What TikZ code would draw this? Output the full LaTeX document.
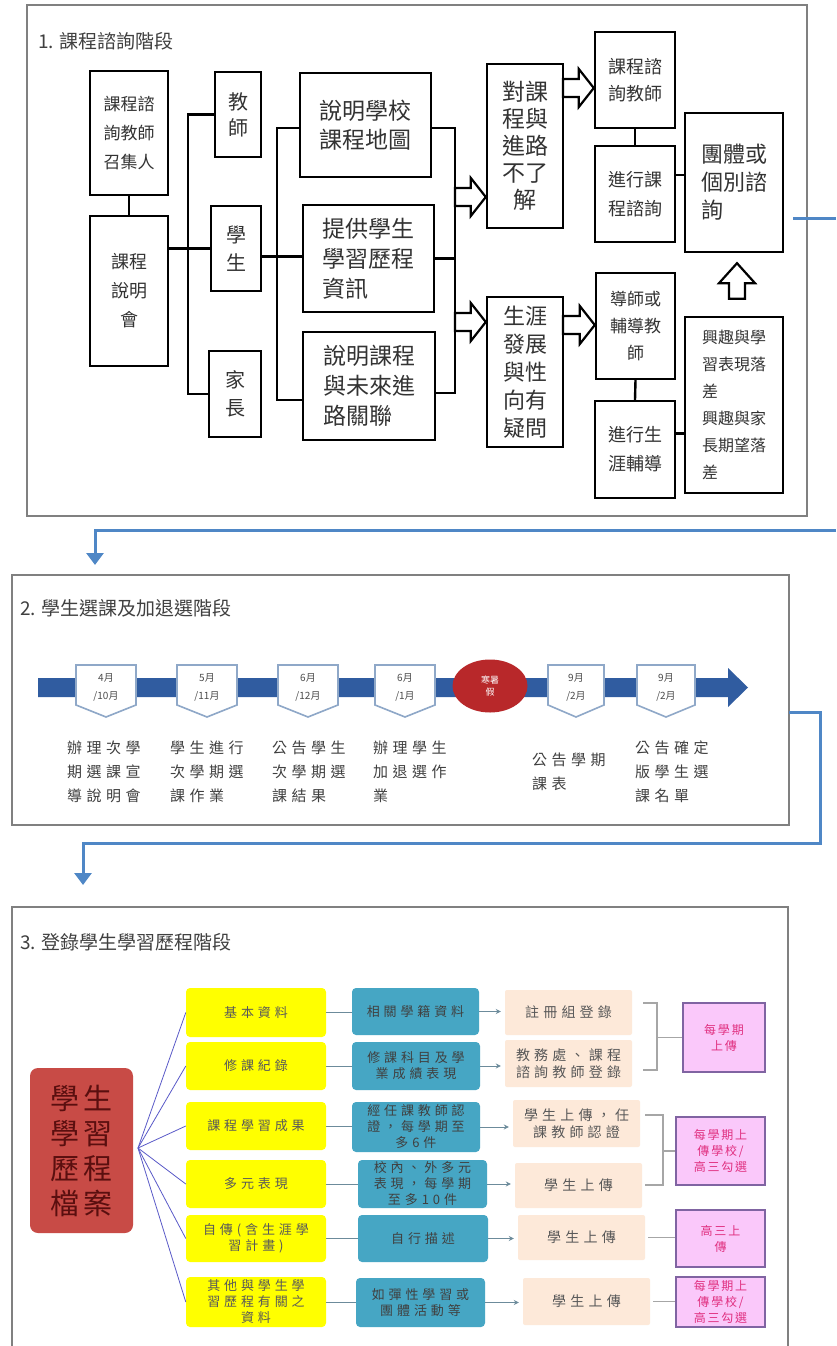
\documentclass[tikz,border=0pt]{standalone}
\usepackage{fontspec}
\setmainfont{Noto Sans CJK TC}
\newfontfamily\spc[LetterSpace=30]{Noto Sans CJK TC}
\newfontfamily\spb[LetterSpace=15]{Noto Sans CJK TC}
\usetikzlibrary{calc,shapes.geometric,arrows.meta}
\definecolor{flowblue}{RGB}{79,135,198}
\definecolor{barblue}{RGB}{48,92,160}
\definecolor{badgeline}{RGB}{143,168,200}
\definecolor{restred}{RGB}{184,40,42}
\definecolor{framegray}{RGB}{128,128,128}
\definecolor{ylw}{RGB}{255,255,0}
\definecolor{tealbox}{RGB}{70,166,196}
\definecolor{peach}{RGB}{253,233,217}
\definecolor{pinkfill}{RGB}{250,200,250}
\definecolor{pinkline}{RGB}{128,100,162}
\definecolor{pinktext}{RGB}{224,48,128}
\definecolor{redbox}{RGB}{200,75,70}
\definecolor{redtext}{RGB}{90,15,15}
\definecolor{fanline}{RGB}{90,90,200}
\newcommand\BX[7]{\node[#1, minimum width={#5-#3}, minimum height={#6-#4}] (#2) at ({(#3+#5)/2},{(#4+#6)/2}) {#7};}
\newcommand\HArR[2]{\draw[hollow] let \p1=(#1), \p2=(#2) in
 (\x1,\y1+9pt) -- (\x2-15pt,\y1+9pt) -- (\x2-15pt,\y1+19pt) -- (\x2,\y1) -- (\x2-15pt,\y1-19pt) -- (\x2-15pt,\y1-9pt) -- (\x1,\y1-9pt) -- cycle;}
\newcommand\HArU[2]{\draw[hollow] let \p1=(#1), \p2=(#2) in
 (\x1-8pt,\y1) -- (\x1-8pt,\y2-20pt) -- (\x1-18pt,\y2-20pt) -- (\x1,\y2) -- (\x1+18pt,\y2-20pt) -- (\x1+8pt,\y2-20pt) -- (\x1+8pt,\y1) -- cycle;}
\newcommand\badge[5]{%
 \draw[draw=badgeline, line width=1.6pt, fill=white] (#2-#3,665) -- (#2+#3,665) -- (#2+#3,705) -- (#2,717) -- (#2-#3,705) -- cycle;
 \node[bdg] (#1) at (#2,687) {#4\\#5};}
\tikzset{
 bx/.style={draw=black, line width=2.4pt, fill=white, align=center, inner sep=1pt, text=black!80},
 bxl/.style={bx, align=left},
 fs/.style 2 args={font=\fontsize{#1}{#2}\selectfont},
 ln/.style={draw=black, line width=2.4pt},
 hollow/.style={draw=black, line width=2.2pt, fill=white, line join=miter},
 frm/.style={draw=framegray, line width=1.6pt},
 ttl/.style={anchor=west, inner sep=0, text=black!75, font=\fontsize{19}{22}\selectfont},
 flowln/.style={draw=flowblue, line width=3pt},
 flowarr/.style={flowln, -{Triangle[length=12pt,width=17pt]}},
 bdg/.style={inner sep=0, align=center, text=black!70, font=\fontsize{10}{18}\selectfont},
 lab/.style={anchor=west, inner sep=0, align=left, text=black!75, font=\spc\fontsize{15}{24}\selectfont},
 ybox/.style={fill=ylw, rounded corners=4pt, align=center, inner sep=1pt, text=black!65, font=\spc\fontsize{13}{16}\selectfont},
 tbox/.style={fill=tealbox, rounded corners=4pt, align=center, inner sep=1pt, text=black!75, font=\spc\fontsize{13}{16}\selectfont},
 pbox/.style={fill=peach, rounded corners=2pt, align=center, inner sep=1pt, text=black!65, font=\spc\fontsize{14}{17}\selectfont},
 kbox/.style={fill=pinkfill, draw=pinkline, line width=1.5pt, align=center, inner sep=1pt, text=pinktext, font=\spb\fontsize{12}{16}\selectfont},
 rbox/.style={fill=redbox, rounded corners=8pt, align=center, inner sep=1pt, text=redtext, font=\spb\fontsize{29}{35}\selectfont},
 fan/.style={draw=fanline, line width=0.8pt},
 conn/.style={draw=gray!60!cyan!80!black, line width=0.8pt},
 brk/.style={draw=gray!70, line width=1.5pt}
}
\begin{document}
\begin{tikzpicture}[x=1pt,y=-1pt]
\useasboundingbox (0,0) rectangle (836,1346);
\fill[white] (0,0) rectangle (836,1346);
% ---------- frames ----------
\BX{frm}{s1}{27}{5}{807}{516}{}
\BX{frm}{s2}{12}{575}{789}{825}{}
\BX{frm}{s3}{12}{907}{788}{1370}{}
\node[ttl] (t1) at (38,41) {1. 課程諮詢階段};
\node[ttl] (t2) at (20,608) {2. 學生選課及加退選階段};
\node[ttl] (t3) at (20,942) {3. 登錄學生學習歷程階段};
% ---------- section 1 ----------
\BX{bx,fs={17}{29}}{A}{90}{71}{168}{195}{課程諮\\詢教師\\召集人}
\BX{bx,fs={18}{29}}{B}{90}{216}{168}{366}{課程\\說明\\會}
\BX{bx,fs={20}{26}}{C}{215}{72}{261}{157}{教\\師}
\BX{bx,fs={20}{28}}{D}{211}{206}{261}{291}{學\\生}
\BX{bx,fs={20}{28}}{E}{209}{351}{261}{437}{家\\長}
\BX{bxl,fs={23}{29}}{F}{300}{73}{431}{177}{說明學校\\課程地圖}
\BX{bxl,fs={23}{30}}{G}{303}{205}{434}{312}{提供學生\\學習歷程\\資訊}
\BX{bxl,fs={23}{30}}{H}{303}{332}{435}{440}{說明課程\\與未來進\\路關聯}
\BX{bx,fs={23}{27}}{I}{487}{64}{563}{228}{對課\\程與\\進路\\不了\\解}
\BX{bx,fs={22}{28}}{J}{487}{297}{563}{447}{生涯\\發展\\與性\\向有\\疑問}
\BX{bx,fs={18}{27}}{K}{595}{32}{675}{128}{課程諮\\詢教師}
\BX{bx,fs={18}{29}}{L}{595}{146}{675}{242}{進行課\\程諮詢}
\BX{bxl,fs={22}{28}}{M}{685}{113}{783}{252}{團體或\\個別諮\\詢}
\BX{bx,fs={17}{27}}{N}{596}{273}{675}{379}{導師或\\輔導教\\師}
\BX{bx,fs={18}{29}}{O}{595}{401}{675}{498}{進行生\\涯輔導}
\BX{bxl,fs={16}{27}}{P}{685}{317}{783}{493}{興趣與學\\習表現落\\差\\興趣與家\\長期望落\\差}
% connectors section 1
\coordinate (lb) at (188,0);
\coordinate (mb) at (277,0);
\coordinate (rb) at (455,0);
\coordinate (dE) at ($(D.east)+(0,8)$);
\coordinate (fW) at ($(F.west)+(0,3)$);
\coordinate (hW) at ($(H.west)+(0,14)$);
\coordinate (fE) at ($(F.east)+(0,3)$);
\coordinate (hE) at ($(H.east)+(0,7)$);
\coordinate (lE) at ($(L.east)+(0,-19)$);
\coordinate (oE) at ($(O.east)+(0,-16)$);
\draw[ln] (A.south) -- (B.north);
\draw[ln] (B.east |- D.west) -- (D.west);
\draw[ln] (C.west) -| (lb |- E.west) -- (E.west);
\draw[ln] (dE) -- (dE -| G.west);
\draw[ln] (fW) -| (hW -| mb) -- (hW);
\draw[ln] (fE) -| (hE -| rb) -- (hE);
\draw[ln] (G.east) -- (G.east -| rb);
\draw[ln] (K.south) -- (L.north);
\draw[ln] (lE) -- (lE -| M.west);
\draw[ln] (N.south) -- (O.north);
\draw[ln] (oE) -- (oE -| P.west);
\coordinate (a1) at (455,197);
\coordinate (a2) at (455,322);
\coordinate (a3) at (563,88);
\coordinate (a4) at (563,325);
\HArR{a1}{a1 -| I.west}
\HArR{a2}{a2 -| J.west}
\HArR{a3}{a3 -| K.west}
\HArR{a4}{a4 -| N.west}
\coordinate (u1) at ($(P.north)+(3,-17)$);
\coordinate (u2) at ($(M.south)+(3,10)$);
\HArU{u1}{u2}
% blue flow connectors
\coordinate (c1) at (793,218);
\coordinate (c2) at (836,218);
\coordinate (c3) at (836,530);
\coordinate (c4) at (95,565);
\draw[flowln] (c1) -- (c2);
\draw[flowarr] (c3) -- (c3 -| c4) -- (c4);
\coordinate (d0) at (789,712);
\coordinate (d1) at (820,843);
\coordinate (d2) at (83,885);
\draw[flowarr] (d0) -| (d1) -- (d1 -| d2) -- (d2);
% ---------- section 2 ----------
\fill[barblue] (38,678) -- (728,678) -- (728,668) -- (748,687.5) -- (728,707) -- (728,697) -- (38,697) -- cycle;
\badge{b1}{106}{30}{4月}{/10月}
\badge{b2}{207}{30}{5月}{/11月}
\badge{b3}{308}{30}{6月}{/12月}
\badge{b4}{405}{30}{6月}{/1月}
\badge{b5}{576}{28}{9月}{/2月}
\badge{b6}{666}{29}{9月}{/2月}
\node[ellipse, fill=restred, minimum width=75pt, minimum height=53pt, inner sep=0, align=center, text=white, font=\fontsize{9}{12}\selectfont] (rest) at (490,686) {寒暑\\假};
\node[lab] (l1) at (67,772) {辦理次學\\期選課宣\\導說明會};
\node[lab] (l2) at (170,772) {學生進行\\次學期選\\課作業};
\node[lab] (l3) at (272,772) {公告學生\\次學期選\\課結果};
\node[lab] (l4) at (373,772) {辦理學生\\加退選作\\業};
\node[lab] (l5) at (532,772) {公告學期\\課表};
\node[lab] (l6) at (635,772) {公告確定\\版學生選\\課名單};
% ---------- section 3 ----------
\BX{rbox}{file}{30}{1068}{133}{1233}{學生\\學習\\歷程\\檔案}
\BX{ybox}{y1}{186}{988}{326}{1037}{基本資料}
\BX{ybox}{y2}{186}{1042}{326}{1090}{修課紀錄}
\BX{ybox}{y3}{186}{1102}{326}{1150}{課程學習成果}
\BX{ybox}{y4}{186}{1160}{326}{1208}{多元表現}
\BX{ybox}{y5}{186}{1215}{326}{1262}{自傳(含生涯學\\習計畫)}
\BX{ybox}{y6}{186}{1277}{326}{1327}{其他與學生學\\習歷程有關之\\資料}
\BX{tbox}{tt1}{352}{988}{479}{1035}{相關學籍資料}
\BX{tbox}{tt2}{352}{1042}{480}{1090}{修課科目及學\\業成績表現}
\BX{tbox}{tt3}{352}{1102}{480}{1152}{經任課教師認\\證，每學期至\\多6件}
\BX{tbox}{tt4}{358}{1160}{487}{1208}{校內、外多元\\表現，每學期\\至多10件}
\BX{tbox}{tt5}{358}{1215}{488}{1262}{自行描述}
\BX{tbox}{tt6}{356}{1278}{485}{1327}{如彈性學習或\\團體活動等}
\BX{pbox}{pe1}{505}{990}{632}{1035}{註冊組登錄}
\BX{pbox}{pe2}{505}{1040}{632}{1087}{教務處、課程\\諮詢教師登錄}
\BX{pbox}{pe3}{513}{1100}{640}{1147}{學生上傳，任\\課教師認證}
\BX{pbox}{pe4}{515}{1163}{642}{1208}{學生上傳}
\BX{pbox}{pe5}{518}{1215}{645}{1260}{學生上傳}
\BX{pbox}{pe6}{523}{1278}{650}{1325}{學生上傳}
\BX{kbox}{pk1}{683}{1003}{765}{1072}{每學期\\上傳}
\BX{kbox}{pk2}{676}{1117}{765}{1185}{每學期上\\傳學校/\\高三勾選}
\BX{kbox}{pk3}{676}{1210}{765}{1267}{高三上\\傳}
\BX{kbox}{pk4}{676}{1277}{765}{1327}{每學期上\\傳學校/\\高三勾選}
\coordinate (fan0) at (138,1148);
\foreach \n in {y1,y2,y3,y4,y5,y6} \draw[fan] (fan0) -- (\n.west);
\foreach \a/\b/\c in {y1/tt1/pe1,y2/tt2/pe2,y3/tt3/pe3,y4/tt4/pe4,y5/tt5/pe5,y6/tt6/pe6}{
 \draw[conn] (\a.east) -- (\a.east -| \b.west);
 \coordinate (tmp) at (\b.east -| \c.west);
 \draw[conn,-{Stealth[length=5pt,width=5pt]}] (\b.east) -- ($(tmp)+(-4,0)$);
}
\draw[brk] (643,1003) -- (657,1003) -- (657,1070) -- (643,1070);
\draw[brk] (657,1037.5) -- (pk1.west);
\draw[brk] (645,1115) -- (663,1115) -- (663,1185) -- (645,1185);
\draw[brk] (663,1151) -- (pk2.west);
\coordinate (e5) at ($(pe5.east)+(3,0)$);
\coordinate (e6) at ($(pe6.east)+(3,0)$);
\draw[brk] (e5) -- (e5 -| pk3.west);
\draw[brk] (e6) -- (e6 -| pk4.west);
\end{tikzpicture}
\end{document}
